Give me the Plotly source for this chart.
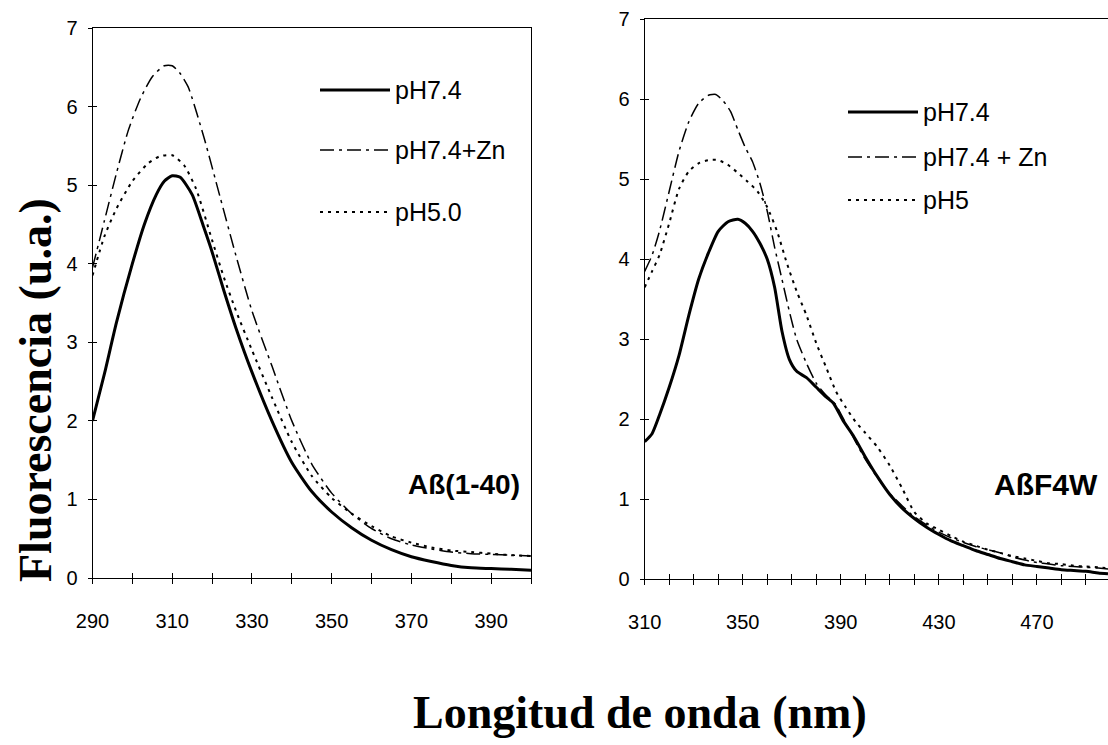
import plotly.graph_objects as go

W, H = 1108, 745

# ---- Panel A: Aß(1-40), emission 290-400 nm ----
wl_a = [290, 293, 296, 300, 303, 306, 308, 310, 312, 315, 318, 320, 323, 326,
        330, 335, 340, 345, 350, 355, 360, 365, 370, 375, 380, 385, 390, 395, 400]
a_ph74 = [2.00, 2.60, 3.25, 4.00, 4.50, 4.88, 5.05, 5.12, 5.10, 4.88, 4.45, 4.15, 3.65, 3.18,
          2.62, 2.00, 1.47, 1.10, 0.84, 0.64, 0.48, 0.36, 0.27, 0.21, 0.16, 0.13, 0.12, 0.11, 0.10]

wl_a_zn = [290, 293, 296, 299, 302, 305, 308, 310, 312, 314, 318, 322, 326, 330,
           335, 340, 345, 350, 355, 360, 365, 370, 375, 380, 385, 390, 395, 400]
a_ph74_zn = [3.95, 4.55, 5.15, 5.70, 6.10, 6.38, 6.52, 6.52, 6.42, 6.25, 5.60, 4.85, 4.10, 3.40,
             2.70, 2.00, 1.45, 1.08, 0.82, 0.63, 0.50, 0.42, 0.37, 0.33, 0.31, 0.30, 0.29, 0.28]

wl_a_ph5 = [290, 293, 296, 300, 304, 307, 310, 313, 316, 320, 323, 326, 330,
            335, 340, 345, 350, 355, 360, 365, 370, 375, 380, 385, 390, 395, 400]
a_ph50 = [3.85, 4.35, 4.70, 5.05, 5.28, 5.37, 5.38, 5.25, 4.95, 4.30, 3.82, 3.40, 2.90,
          2.30, 1.73, 1.30, 1.02, 0.82, 0.66, 0.53, 0.45, 0.39, 0.35, 0.33, 0.31, 0.29, 0.28]

# ---- Panel B: AßF4W, emission 310-499 nm ----
wl_b = [310, 313, 316, 320, 324, 328, 332, 336, 340, 344, 348, 351, 354, 357, 360, 363,
        366, 369, 372, 376, 380, 384, 387, 391, 395, 400, 405, 410, 415, 420, 425, 430,
        435, 440, 445, 450, 455, 460, 465, 470, 475, 480, 485, 490, 495, 499]
b_ph74 = [1.72, 1.82, 2.05, 2.40, 2.80, 3.30, 3.75, 4.08, 4.35, 4.47, 4.50, 4.45, 4.35, 4.20, 4.00, 3.65,
          3.10, 2.75, 2.60, 2.52, 2.40, 2.28, 2.20, 1.98, 1.80, 1.53, 1.28, 1.06, 0.89, 0.76, 0.65, 0.56,
          0.48, 0.42, 0.36, 0.31, 0.26, 0.22, 0.18, 0.16, 0.14, 0.12, 0.11, 0.10, 0.08, 0.07]

wl_b_zn = [310, 313, 316, 320, 324, 328, 332, 336, 339, 342, 345, 348, 351, 354, 357, 360,
           363, 366, 369, 372, 376, 380, 384, 388, 392, 396, 400, 405, 410, 415, 420, 425,
           430, 435, 440, 445, 450, 455, 460, 465, 470, 475, 480, 485, 490, 495, 499]
b_ph74_zn = [3.85, 4.05, 4.35, 4.85, 5.35, 5.72, 5.95, 6.05, 6.06, 5.98, 5.85, 5.62, 5.40, 5.22, 4.95, 4.60,
             4.15, 3.75, 3.35, 3.00, 2.70, 2.45, 2.30, 2.18, 1.95, 1.72, 1.50, 1.27, 1.07, 0.92, 0.78, 0.68,
             0.59, 0.52, 0.46, 0.41, 0.37, 0.33, 0.28, 0.24, 0.21, 0.19, 0.17, 0.16, 0.15, 0.14, 0.13]

wl_b_ph5 = [310, 313, 316, 320, 324, 328, 332, 336, 340, 344, 348, 352, 356, 360, 364, 368,
            372, 376, 380, 384, 388, 392, 396, 400, 405, 410, 415, 420, 425, 430, 435, 440,
            445, 450, 455, 460, 465, 470, 475, 480, 485, 490, 495, 499]
b_ph5 = [3.65, 3.85, 4.05, 4.45, 4.88, 5.10, 5.20, 5.24, 5.24, 5.18, 5.08, 4.97, 4.85, 4.65, 4.35, 3.95,
         3.60, 3.30, 2.95, 2.65, 2.35, 2.15, 1.97, 1.83, 1.65, 1.42, 1.14, 0.84, 0.70, 0.62, 0.54, 0.47,
         0.42, 0.37, 0.33, 0.29, 0.26, 0.23, 0.20, 0.19, 0.17, 0.16, 0.15, 0.14]

# ---- tick labels ----
ticks_a = list(range(290, 401, 10))
labels_a = [str(v) if v in (290, 310, 330, 350, 370, 390) else "" for v in ticks_a]
ticks_b = list(range(310, 500, 10))
labels_b = [str(v) if v in (310, 350, 390, 430, 470) else "" for v in ticks_b]
y_ticks = list(range(0, 8))

legend_a = ["pH7.4", "pH7.4+Zn", "pH5.0"]
legend_b = ["pH7.4", "pH7.4 + Zn", "pH5"]


def px(x):
    return x / W


def py(y):
    return 1 - y / H


SOLID = dict(color="black", width=3)
DASHDOT = dict(color="black", width=1.5, dash="14px,5px,3px,5px")
DOTTED = dict(color="black", width=2, dash="3px,5px")

fig = go.Figure()

panel_a = [(wl_a, a_ph74, SOLID), (wl_a_zn, a_ph74_zn, DASHDOT), (wl_a_ph5, a_ph50, DOTTED)]
panel_b = [(wl_b, b_ph74, SOLID), (wl_b_zn, b_ph74_zn, DASHDOT), (wl_b_ph5, b_ph5, DOTTED)]

for (xs, ys, ln), name in zip(panel_a, legend_a):
    fig.add_trace(go.Scatter(x=xs, y=ys, mode="lines", line=dict(shape="spline", smoothing=0.6, **ln),
                             name=name, xaxis="x", yaxis="y", showlegend=False))
for (xs, ys, ln), name in zip(panel_b, legend_b):
    fig.add_trace(go.Scatter(x=xs, y=ys, mode="lines", line=dict(shape="spline", smoothing=0.6, **ln),
                             name=name, xaxis="x2", yaxis="y2", showlegend=False))

# empty traces that carry the inner half of the crossing tick marks
fig.add_trace(go.Scatter(x=[], y=[], xaxis="x3", yaxis="y3", showlegend=False, hoverinfo="skip"))
fig.add_trace(go.Scatter(x=[], y=[], xaxis="x4", yaxis="y4", showlegend=False, hoverinfo="skip"))

tickfont = dict(family="Liberation Sans, Arial, sans-serif", size=20, color="black")

dom_xa = [px(92.5), px(531)]
dom_ya = [py(578), py(28)]
dom_xb = [px(644.7), 1.0]
dom_yb = [py(579.3), py(19.3)]

common_x = dict(showgrid=False, zeroline=False, tickmode="array", ticks="outside", ticklen=5,
                tickwidth=1, tickcolor="black", tickfont=tickfont, automargin=False,
                ticklabelstandoff=20)
common_y = dict(showgrid=False, zeroline=False, range=[0, 7], tickmode="array", tickvals=y_ticks,
                ticks="outside", ticklen=4, tickwidth=1, tickcolor="black",
                tickfont=dict(tickfont, size=20), automargin=False, ticklabelstandoff=6)
inner = dict(showgrid=False, zeroline=False, showline=False, showticklabels=False, tickmode="array",
             ticks="inside", ticklen=5, tickwidth=1, tickcolor="black")

fig.update_layout(
    width=W, height=H,
    margin=dict(l=0, r=0, t=0, b=0),
    paper_bgcolor="white", plot_bgcolor="white",
    xaxis=dict(common_x, domain=dom_xa, range=[290, 400], tickvals=ticks_a, ticktext=labels_a,
               anchor="y", showline=True, linecolor="black", linewidth=1, mirror=True),
    yaxis=dict(common_y, domain=dom_ya, anchor="x", showline=True, linecolor="black",
               linewidth=1, mirror=True),
    xaxis2=dict(common_x, domain=dom_xb, range=[310, 499], tickvals=ticks_b, ticktext=labels_b,
                anchor="y2", showline=True, linecolor="black", linewidth=1, mirror=True),
    yaxis2=dict(common_y, domain=dom_yb, anchor="x2", showline=True, linecolor="black",
                linewidth=1, mirror=False),
    xaxis3=dict(inner, overlaying="x", anchor="y3", range=[290, 400], tickvals=ticks_a),
    yaxis3=dict(inner, overlaying="y", anchor="x3", range=[0, 7], tickvals=y_ticks, ticklen=4),
    xaxis4=dict(inner, overlaying="x2", anchor="y4", range=[310, 499], tickvals=ticks_b),
    yaxis4=dict(inner, overlaying="y2", anchor="x4", range=[0, 7], tickvals=y_ticks, ticklen=4),
)

# ---- hand-placed legends with long line samples ----
leg_font = dict(family="Liberation Sans, Arial, sans-serif", size=25, color="black")
styles = [SOLID, DASHDOT, DOTTED]


def add_legend(names, x0, x1, rows):
    for name, st, yy in zip(names, styles, rows):
        fig.add_shape(type="line", xref="paper", yref="paper", x0=px(x0), x1=px(x1),
                      y0=py(yy), y1=py(yy), line=st)
        fig.add_annotation(xref="paper", yref="paper", x=px(x1 + 3), y=py(yy), text=name,
                           showarrow=False, xanchor="left", yanchor="middle", font=leg_font)


add_legend(legend_a, 320, 390, [90, 150, 212])
add_legend(legend_b, 848, 918, [112, 157, 200])

# ---- panel labels ----
label_font = dict(family="Liberation Sans, Arial, sans-serif", size=28, color="black")
fig.add_annotation(xref="paper", yref="paper", x=px(406), y=py(485), text="<b>Aß(1-40)</b>",
                   showarrow=False, xanchor="left", yanchor="middle", font=label_font)
fig.add_annotation(xref="paper", yref="paper", x=px(992), y=py(485), text="<b>AßF4W</b>",
                   showarrow=False, xanchor="left", yanchor="middle",
                   font=dict(label_font, size=30))

# ---- shared axis titles ----
title_font = dict(family="Liberation Serif, Times New Roman, serif", size=46, color="black")
fig.add_annotation(xref="paper", yref="paper", x=px(35), y=py(390), text="<b>Fluorescencia (u.a.)</b>",
                   textangle=-90, showarrow=False, xanchor="center", yanchor="middle", font=title_font)
fig.add_annotation(xref="paper", yref="paper", x=px(640), y=py(712), text="<b>Longitud de onda (nm)</b>",
                   showarrow=False, xanchor="center", yanchor="middle", font=title_font)

fig.write_html("out.html")
